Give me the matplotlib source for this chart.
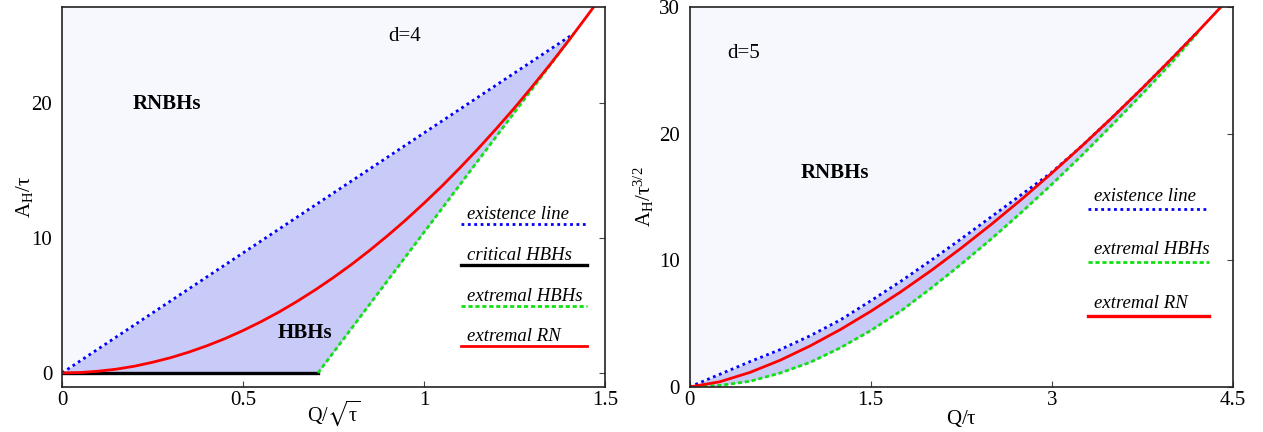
import matplotlib.pyplot as plt
from matplotlib.lines import Line2D
import numpy as np

plt.rcParams['font.family'] = ['Liberation Serif', 'DejaVu Serif']
plt.rcParams['mathtext.fontset'] = 'stix'

# ---- d=4 panel data ----
d4_exist_x = [0.0, 1.414]
d4_exist_y = [0.0, 25.13]

d4_crit_x = [0.0, 0.707]
d4_crit_y = [0.0, 0.0]

d4_extr_hbh_x = [0.707, 1.414]
d4_extr_hbh_y = [0.0, 25.13]

d4_rn_x = [0.0, 0.05, 0.1, 0.15, 0.2, 0.25, 0.3, 0.35, 0.4, 0.45, 0.5, 0.55, 0.6,
           0.65, 0.7, 0.75, 0.8, 0.85, 0.9, 0.95, 1.0, 1.05, 1.1, 1.15, 1.2, 1.25,
           1.3, 1.35, 1.4, 1.414, 1.45, 1.47]
d4_rn_y = [0.0, 0.03, 0.13, 0.28, 0.5, 0.79, 1.13, 1.54, 2.01, 2.54, 3.14, 3.8, 4.52,
           5.31, 6.16, 7.07, 8.04, 9.08, 10.18, 11.34, 12.57, 13.85, 15.21, 16.62,
           18.1, 19.63, 21.24, 22.9, 24.63, 25.13, 26.42, 27.15]

# ---- d=5 panel data ----
d5_x = [0.0, 0.25, 0.5, 0.75, 1.0, 1.25, 1.5, 1.75, 2.0, 2.25, 2.5, 2.75, 3.0,
        3.25, 3.5, 3.75, 4.0, 4.21]
d5_exist_y = [0.0, 1.0, 2.0, 2.95, 4.05, 5.3, 6.8, 8.35, 10.0, 11.7, 13.45, 15.2,
              16.95, 19.04, 21.28, 23.6, 26.0, 28.07]
d5_extr_hbh_y = [0.0, 0.12, 0.45, 1.1, 1.95, 3.1, 4.45, 6.0, 7.8, 9.7, 11.7, 13.8,
                 16.0, 18.3, 20.7, 23.15, 25.7, 28.0]
d5_rn_x = [0.0, 0.25, 0.5, 0.75, 1.0, 1.25, 1.5, 1.75, 2.0, 2.25, 2.5, 2.75, 3.0,
           3.25, 3.5, 3.75, 4.0, 4.21, 4.41]
d5_rn_y = [0.0, 0.41, 1.15, 2.11, 3.25, 4.54, 5.97, 7.52, 9.19, 10.97, 12.85, 14.82,
           16.89, 19.04, 21.28, 23.6, 26.0, 28.07, 30.1]

PALE = '#f6f8fd'
MID = '#c8cbf8'
BLUE = '#0000ff'
GREEN = '#11e011'
RED = '#ff0000'
FS = 15


def style_axes(ax):
    ax.tick_params(axis='both', which='both', direction='in', length=4.5,
                   labelsize=FS, left=False, right=True, top=False, bottom=True,
                   labelleft=True, color='#444444')
    ax.tick_params(axis='x', pad=3)
    ax.tick_params(axis='y', pad=7)
    for s in ax.spines.values():
        s.set_linewidth(1.2)
        s.set_color('#222222')


def legend_entry(ax, yfrac, label, color, ls, lw, x0, x1, tx, dy):
    ax.add_line(Line2D([x0, x1], [yfrac, yfrac], transform=ax.transAxes,
                       color=color, linestyle=ls, linewidth=lw, clip_on=False))
    ax.text(tx, yfrac + dy, label, transform=ax.transAxes, fontsize=13.5,
            style='italic', va='baseline', ha='left')


fig = plt.figure(figsize=(12.63, 4.32), dpi=100)
ax1 = fig.add_axes([62 / 1263, 45 / 432, 543 / 1263, 380 / 432])
ax2 = fig.add_axes([689.5 / 1263, 45 / 432, 543.5 / 1263, 380 / 432])

# ---------------- d=4 ----------------
ax1.set_xlim(0, 1.5)
ax1.set_ylim(-1.04, 27.1)
ax1.set_facecolor('white')

# pale RNBH region: above existence line, then above the RN curve
ex_grid = np.array(d4_rn_x)
upper_bound = np.where(ex_grid <= d4_exist_x[1],
                       np.interp(ex_grid, d4_exist_x, d4_exist_y),
                       np.array(d4_rn_y))
ax1.fill_between(ex_grid, upper_bound, 27.1, color=PALE, lw=0)
# HBH region: between existence line and critical/extremal HBHs
hx = [0.0, 0.707, 1.414]
ax1.fill_between(hx, np.interp(hx, d4_exist_x, d4_exist_y),
                 [0.0, 0.0, 25.13], color=MID, lw=0)

ax1.plot(d4_exist_x, d4_exist_y, color=BLUE, ls=(0, (1, 1.3)), lw=2)
ax1.plot(d4_crit_x, d4_crit_y, color='black', lw=2.4)
ax1.plot(d4_extr_hbh_x, d4_extr_hbh_y, color=GREEN, ls=(0, (1.5, 1)), lw=2)
ax1.plot(d4_rn_x, d4_rn_y, color=RED, lw=2)

ax1.set_xticks([0, 0.5, 1, 1.5])
ax1.set_xticklabels(['0', '0.5', '1', '1.5'])
ax1.set_yticks([0, 10, 20])
style_axes(ax1)
ax1.set_xlabel(r'$\mathregular{Q/\sqrt{τ}}$', fontsize=14.5)
ax1.xaxis.set_label_coords(0.5, -0.03)
ax1.set_ylabel(r'$\mathregular{A_H/τ}$', fontsize=FS)
ax1.yaxis.set_label_coords(-0.05, 0.5)

ax1.text(0.946, 24.9, 'd=4', fontsize=FS, ha='center', va='center')
ax1.text(0.29, 19.9, 'RNBHs', fontsize=FS, fontweight='bold', ha='center', va='center')
ax1.text(0.672, 2.96, 'HBHs', fontsize=FS, fontweight='bold', ha='center', va='center')

legend_entry(ax1, 0.429, 'existence line', BLUE, (0, (1, 1.3)), 2, 0.734, 0.966, 0.746, 0.013)
legend_entry(ax1, 0.321, 'critical HBHs', 'black', '-', 2.4, 0.734, 0.966, 0.746, 0.013)
legend_entry(ax1, 0.214, 'extremal HBHs', GREEN, (0, (1.5, 1)), 2, 0.734, 0.966, 0.746, 0.013)
legend_entry(ax1, 0.108, 'extremal RN', RED, '-', 2, 0.734, 0.966, 0.746, 0.013)

# ---------------- d=5 ----------------
ax2.set_xlim(0, 4.5)
ax2.set_ylim(0, 30)
ax2.set_facecolor('white')

rx = np.array(d5_rn_x)
ax2.fill_between(rx, np.interp(rx, d5_x, d5_exist_y, right=np.nan), 30, color=PALE, lw=0)
ax2.fill_between(d5_rn_x[-3:], d5_rn_y[-3:], 30, color=PALE, lw=0)
ax2.fill_between(d5_x, d5_exist_y, d5_extr_hbh_y, color=MID, lw=0)

ax2.plot(d5_x, d5_exist_y, color=BLUE, ls=(0, (1, 1.3)), lw=2)
ax2.plot(d5_x, d5_extr_hbh_y, color=GREEN, ls=(0, (1.5, 1)), lw=2)
ax2.plot(d5_rn_x, d5_rn_y, color=RED, lw=2)

ax2.set_xticks([0, 1.5, 3, 4.5])
ax2.set_xticklabels(['0', '1.5', '3', '4.5'])
ax2.set_yticks([0, 10, 20, 30])
style_axes(ax2)
ax2.set_xlabel(r'$\mathregular{Q/τ}$', fontsize=FS)
ax2.xaxis.set_label_coords(0.5, -0.055)
ax2.set_ylabel(r'$\mathregular{A_H/τ^{3/2}}$', fontsize=FS)
ax2.yaxis.set_label_coords(-0.062, 0.5)

ax2.text(0.45, 26.3, 'd=5', fontsize=FS, ha='center', va='center')
ax2.text(1.2, 16.9, 'RNBHs', fontsize=FS, fontweight='bold', ha='center', va='center')

legend_entry(ax2, 0.469, 'existence line', BLUE, (0, (1, 1.3)), 2, 0.734, 0.956, 0.744, 0.021)
legend_entry(ax2, 0.329, 'extremal HBHs', GREEN, (0, (1.5, 1)), 2, 0.734, 0.956, 0.744, 0.021)
legend_entry(ax2, 0.188, 'extremal RN', RED, '-', 2.4, 0.734, 0.956, 0.744, 0.021)

fig.savefig('out.png', dpi=100)
